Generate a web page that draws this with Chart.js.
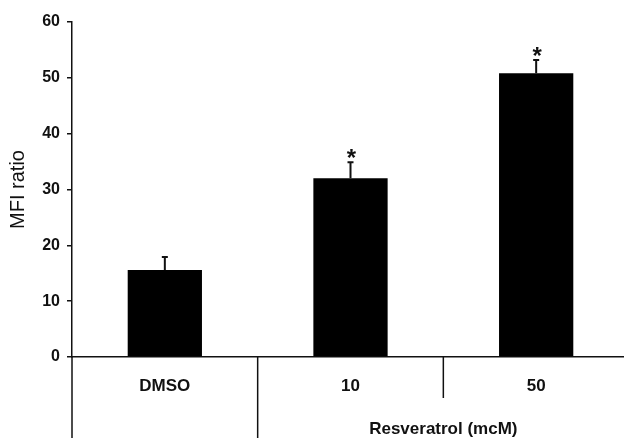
<!DOCTYPE html>
<html>
<head>
<meta charset="utf-8">
<script src="https://cdn.jsdelivr.net/npm/chart.js@4/dist/chart.umd.min.js"></script>
<style>
    html, body { margin: 0; padding: 0; background: #fff; overflow: hidden; width: 624px; height: 438px; }
    canvas { display: block; }
</style>
</head>
<body>
<canvas id="mfiChart" width="640" height="438"></canvas>
<script>
const categories = ['DMSO', '10', '50'];
const mfiRatio = [15.6, 32.0, 50.8];
const errUpper = [2.3, 2.9, 2.4];
const significant = [false, true, true];
const groupLabel = 'Resveratrol (mcM)';
const groupSpan = [1, 2];

const FONT = '"Liberation Sans", Arial, sans-serif';
const INK = '#111';

const tablePlugin = {
    id: 'tablePlugin',
    afterDraw(chart) {
        const ctx = chart.ctx;
        const x = chart.scales.x;
        const y = chart.scales.y;
        const bottom = chart.chartArea.bottom;
        const h = chart.height;

        ctx.save();
        ctx.strokeStyle = INK;
        ctx.lineWidth = 1.5;

        // y axis continues below the x axis
        ctx.beginPath();
        ctx.moveTo(x.left, bottom);
        ctx.lineTo(x.left, h);
        ctx.stroke();

        // separators between categories
        for (let i = 1; i < categories.length; i++) {
            const sx = (x.getPixelForValue(i - 1) + x.getPixelForValue(i)) / 2;
            const inGroup = i > groupSpan[0] && i <= groupSpan[1];
            ctx.beginPath();
            ctx.moveTo(sx, bottom);
            ctx.lineTo(sx, inGroup ? bottom + 41 : h);
            ctx.stroke();
        }

        // group label
        const gx = (x.getPixelForValue(groupSpan[0]) + x.getPixelForValue(groupSpan[1])) / 2;
        ctx.fillStyle = INK;
        ctx.font = 'bold 17px ' + FONT;
        ctx.textAlign = 'center';
        ctx.textBaseline = 'middle';
        ctx.fillText(groupLabel, gx, bottom + 72);

        // error bars + asterisks
        ctx.lineWidth = 2;
        mfiRatio.forEach((v, i) => {
            const cx = x.getPixelForValue(i);
            const y0 = y.getPixelForValue(v);
            const y1 = y.getPixelForValue(v + errUpper[i]);
            ctx.beginPath();
            ctx.moveTo(cx, y0);
            ctx.lineTo(cx, y1);
            ctx.moveTo(cx - 3, y1);
            ctx.lineTo(cx + 3, y1);
            ctx.stroke();
            if (significant[i]) {
                ctx.font = 'bold 24px ' + FONT;
                ctx.textBaseline = 'middle';
                ctx.fillText('*', cx + 1, y1 - 3);
            }
        });
        ctx.restore();
    }
};

new Chart(document.getElementById('mfiChart'), {
    type: 'bar',
    data: {
        labels: categories,
        datasets: [{
            data: mfiRatio,
            backgroundColor: '#000',
            borderWidth: 0,
            barPercentage: 0.4,
            categoryPercentage: 1.0
        }]
    },
    options: {
        responsive: false,
        devicePixelRatio: 1,
        animation: false,
        layout: { padding: { top: 22, right: 11, left: 0, bottom: 0 } },
        plugins: {
            legend: { display: false },
            tooltip: { enabled: false }
        },
        scales: {
            x: {
                offset: true,
                grid: { display: false, drawTicks: false },
                border: { display: true, color: INK, width: 1.5 },
                ticks: {
                    color: INK,
                    padding: 19,
                    font: { family: FONT, size: 17, weight: 'bold' }
                },
                afterFit: scale => { scale.height = 81; }
            },
            y: {
                min: 0,
                max: 60,
                ticks: {
                    stepSize: 10,
                    color: INK,
                    padding: 7,
                    font: { family: FONT, size: 16, weight: 'bold' }
                },
                grid: { drawOnChartArea: false, drawTicks: true, tickLength: 5, color: INK, lineWidth: 1.5 },
                border: { display: true, color: INK, width: 1.5 },
                title: {
                    display: true,
                    text: 'MFI ratio',
                    color: INK,
                    padding: { top: 6, bottom: 0 },
                    font: { family: FONT, size: 20 }
                },
                afterFit: scale => { scale.width = 72; }
            }
        }
    },
    plugins: [tablePlugin]
});
</script>
</body>
</html>
